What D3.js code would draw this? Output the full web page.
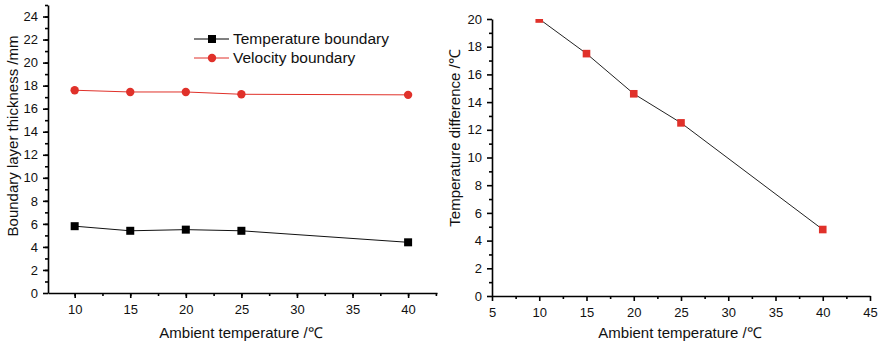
<!DOCTYPE html>
<html>
<head>
<meta charset="utf-8">
<script src="https://cdn.jsdelivr.net/npm/d3@7"></script>
<style>
  body { margin: 0; background: #fff; }
  text { font-family: "Liberation Sans", Arial, sans-serif; }
</style>
</head>
<body>
<div id="chart"></div>
<script>
// ambient temperature (°C)
const ambient = [10, 15, 20, 25, 40];
// boundary layer thickness (mm)
const tempBoundary = [5.8, 5.4, 5.5, 5.4, 4.4];
const velBoundary = [17.6, 17.45, 17.45, 17.25, 17.2];
// temperature difference (°C)
const tempDiff = [20, 17.5, 14.6, 12.5, 4.8];

const leftYTicks = [0, 2, 4, 6, 8, 10, 12, 14, 16, 18, 20, 22, 24];
const leftXTicks = [10, 15, 20, 25, 30, 35, 40];
const rightYTicks = [0, 2, 4, 6, 8, 10, 12, 14, 16, 18, 20];
const rightXTicks = [5, 10, 15, 20, 25, 30, 35, 40, 45];

const RED = '#e0312a';

const svg = d3.select('#chart').append('svg')
  .attr('width', 879)
  .attr('height', 345);

function drawAxes(g, x, y, xTicks, xMinor, yTicks, yMinor) {
  const [x0, x1] = x.range();
  const [y0, y1] = y.range();

  g.append('g')
    .attr('transform', `translate(0,${y0})`)
    .call(d3.axisBottom(x).tickValues(xMinor).tickSize(3).tickFormat(''))
    .call(a => a.select('.domain').remove());
  g.append('g')
    .attr('transform', `translate(${x0},0)`)
    .call(d3.axisLeft(y).tickValues(yMinor).tickSize(3).tickFormat(''))
    .call(a => a.select('.domain').remove());

  g.append('g')
    .attr('transform', `translate(0,${y0})`)
    .call(d3.axisBottom(x).tickValues(xTicks).tickSize(5).tickSizeOuter(0).tickPadding(7).tickFormat(d3.format('d')))
    .attr('font-size', 13);
  g.append('g')
    .attr('transform', `translate(${x0},0)`)
    .call(d3.axisLeft(y).tickValues(yTicks).tickSize(5).tickSizeOuter(0).tickPadding(5).tickFormat(d3.format('d')))
    .attr('font-size', 13);

  g.selectAll('.domain, .tick line').attr('stroke', '#000').attr('stroke-width', 1.6);
  g.selectAll('.tick text').attr('fill', '#111');
}

// ---------- left chart ----------
{
  const x = d3.scaleLinear().domain([7.6, 42.6]).range([48, 437]);
  const y = d3.scaleLinear().domain([0, 25]).range([293, 5]);
  const g = svg.append('g');

  drawAxes(g, x, y, leftXTicks, d3.range(7.5, 42.6, 2.5).filter(v => v >= 7.6),
    leftYTicks, d3.range(1, 25.1, 1));

  const line = d3.line().x((d, i) => x(ambient[i])).y(d => y(d));

  g.append('path').datum(tempBoundary)
    .attr('fill', 'none').attr('stroke', '#111').attr('stroke-width', 1).attr('d', line);
  g.append('path').datum(velBoundary)
    .attr('fill', 'none').attr('stroke', RED).attr('stroke-width', 1).attr('d', line);

  g.selectAll('.sq').data(tempBoundary).join('rect')
    .attr('x', (d, i) => x(ambient[i]) - 4)
    .attr('y', d => y(d) - 4)
    .attr('width', 8).attr('height', 8).attr('fill', '#000');
  g.selectAll('.ci').data(velBoundary).join('circle')
    .attr('cx', (d, i) => x(ambient[i]))
    .attr('cy', d => y(d))
    .attr('r', 4.2).attr('fill', RED);

  // legend
  const legend = [
    { name: 'Temperature boundary', color: '#000', shape: 'square' },
    { name: 'Velocity boundary', color: RED, shape: 'circle' }
  ];
  const lg = g.append('g').attr('transform', 'translate(194,39)');
  legend.forEach((d, i) => {
    const row = lg.append('g').attr('transform', `translate(0,${i * 19})`);
    row.append('line').attr('x1', 0).attr('x2', 35).attr('stroke', d.color).attr('stroke-width', 1);
    if (d.shape === 'square') {
      row.append('rect').attr('x', 14).attr('y', -4).attr('width', 8).attr('height', 8).attr('fill', d.color);
    } else {
      row.append('circle').attr('cx', 18).attr('r', 4.2).attr('fill', d.color);
    }
    row.append('text').attr('x', 39).attr('dy', '0.35em')
      .attr('font-size', 15.5).attr('fill', '#111').text(d.name);
  });

  g.append('text')
    .attr('x', 241).attr('y', 338)
    .attr('text-anchor', 'middle').attr('font-size', 15).attr('fill', '#111')
    .text('Ambient temperature /℃');
  g.append('text')
    .attr('transform', 'translate(18,136) rotate(-90)')
    .attr('text-anchor', 'middle').attr('font-size', 15).attr('fill', '#111')
    .text('Boundary layer thickness /mm');
}

// ---------- right chart ----------
{
  const x = d3.scaleLinear().domain([5, 45]).range([492, 870]);
  const y = d3.scaleLinear().domain([0, 20]).range([296, 19]);
  const g = svg.append('g');

  drawAxes(g, x, y, rightXTicks, d3.range(7.5, 45, 5),
    rightYTicks, d3.range(1, 20, 2));

  g.append('clipPath').attr('id', 'clipR')
    .append('rect').attr('x', 492).attr('y', 19).attr('width', 390).attr('height', 290);

  const plot = g.append('g').attr('clip-path', 'url(#clipR)');
  const line = d3.line().x((d, i) => x(ambient[i])).y(d => y(d));

  plot.append('path').datum(tempDiff)
    .attr('fill', 'none').attr('stroke', '#222').attr('stroke-width', 1).attr('d', line);
  plot.selectAll('.sq').data(tempDiff).join('rect')
    .attr('x', (d, i) => x(ambient[i]) - 3.8)
    .attr('y', d => y(d) - 3.8)
    .attr('width', 7.6).attr('height', 7.6).attr('fill', RED);

  g.append('text')
    .attr('x', 680).attr('y', 338)
    .attr('text-anchor', 'middle').attr('font-size', 15).attr('fill', '#111')
    .text('Ambient temperature /℃');
  g.append('text')
    .attr('transform', 'translate(460,138) rotate(-90)')
    .attr('text-anchor', 'middle').attr('font-size', 15).attr('fill', '#111')
    .text('Temperature difference /℃');
}
</script>
</body>
</html>
